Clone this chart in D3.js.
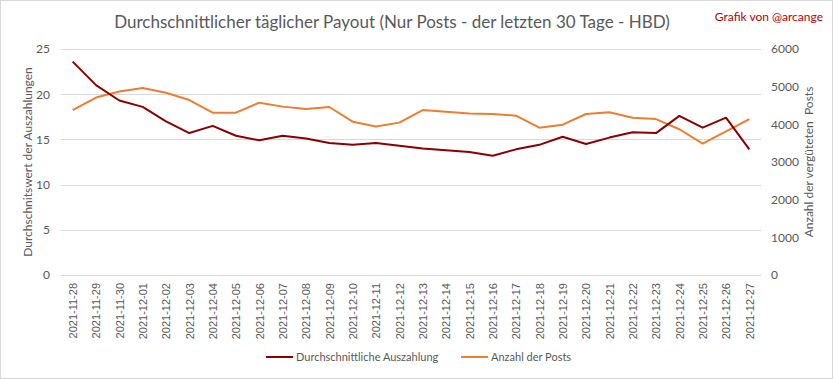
<!DOCTYPE html>
<html>
<head>
<meta charset="utf-8">
<script src="https://cdn.jsdelivr.net/npm/d3@7"></script>
<style>
  body { margin: 0; background: #fff; }
  svg text { font-family: Lato, "Open Sans", sans-serif; fill: #595959; }
</style>
</head>
<body>
<div id="chart"></div>
<script>
// daily average payout vs number of posts
var dates = ["2021-11-28","2021-11-29","2021-11-30","2021-12-01","2021-12-02","2021-12-03","2021-12-04","2021-12-05",
  "2021-12-06","2021-12-07","2021-12-08","2021-12-09","2021-12-10","2021-12-11","2021-12-12","2021-12-13",
  "2021-12-14","2021-12-15","2021-12-16","2021-12-17","2021-12-18","2021-12-19","2021-12-20","2021-12-21",
  "2021-12-22","2021-12-23","2021-12-24","2021-12-25","2021-12-26","2021-12-27"];
var payout = [23.6, 21.0, 19.3, 18.6, 17.0, 15.7, 16.5, 15.4, 14.9, 15.4, 15.1, 14.6, 14.4, 14.6, 14.3, 14.0,
  13.8, 13.6, 13.2, 13.9, 14.4, 15.3, 14.5, 15.2, 15.8, 15.7, 17.6, 16.3, 17.4, 13.9];
var posts = [4380, 4710, 4870, 4965, 4840, 4645, 4310, 4310, 4575, 4470, 4405, 4460, 4070, 3940, 4045, 4380,
  4335, 4285, 4275, 4230, 3910, 3990, 4275, 4320, 4175, 4140, 3870, 3490, 3815, 4140];
var leftTicks = [0, 5, 10, 15, 20, 25];
var rightTicks = [0, 1000, 2000, 3000, 4000, 5000, 6000];

var W = 833, H = 379;
var margin = {left: 61, right: 72, top: 49, bottom: 104};

var svg = d3.select("#chart").append("svg")
    .attr("width", W)
    .attr("height", H);

svg.append("rect")
    .attr("x", 0.5).attr("y", 0.5)
    .attr("width", W - 1).attr("height", H - 1)
    .attr("fill", "#fff")
    .attr("stroke", "#d9d9d9");

var x = d3.scalePoint()
    .domain(dates)
    .range([margin.left, W - margin.right])
    .padding(0.5);
var yL = d3.scaleLinear().domain([0, 25]).range([H - margin.bottom, margin.top]);
var yR = d3.scaleLinear().domain([0, 6000]).range([H - margin.bottom, margin.top]);

// gridlines
svg.append("g")
    .selectAll("line")
    .data(leftTicks)
    .enter()
    .append("line")
    .attr("x1", margin.left)
    .attr("x2", W - margin.right)
    .attr("y1", d => Math.round(yL(d)) + 0.5)
    .attr("y2", d => Math.round(yL(d)) + 0.5)
    .attr("stroke", "#d9d9d9");

// left axis
var leftAxis = svg.append("g")
    .attr("transform", `translate(${margin.left}, 0)`)
    .call(d3.axisLeft(yL).tickValues(leftTicks).tickSize(0).tickPadding(11));
leftAxis.select(".domain").remove();
leftAxis.selectAll("text").style("font-size", "12px").attr("fill", "#595959")
    .style("font-family", "Lato, sans-serif");

// right axis
var rightAxis = svg.append("g")
    .attr("transform", `translate(${W - margin.right}, 0)`)
    .call(d3.axisRight(yR).tickValues(rightTicks).tickFormat(d3.format("d")).tickSize(0).tickPadding(10));
rightAxis.select(".domain").remove();
rightAxis.selectAll("text").style("font-size", "12px").attr("fill", "#595959")
    .style("font-family", "Lato, sans-serif");

// x axis, rotated labels
var xAxis = svg.append("g")
    .attr("transform", `translate(0, ${H - margin.bottom})`)
    .call(d3.axisBottom(x).tickSize(0).tickPadding(0));
xAxis.select(".domain").remove();
xAxis.selectAll("text")
    .attr("transform", "rotate(-90)")
    .attr("x", -8)
    .attr("y", 0)
    .attr("dy", "0.35em")
    .attr("text-anchor", "end")
    .attr("fill", "#595959")
    .style("font-size", "11px")
    .style("font-family", "'Liberation Sans', Arial, sans-serif");

// lines
var linePay = d3.line()
    .x((d, i) => x(dates[i]))
    .y(d => yL(d));
var linePosts = d3.line()
    .x((d, i) => x(dates[i]))
    .y(d => yR(d));

svg.append("path")
    .datum(posts)
    .attr("d", linePosts)
    .attr("fill", "none")
    .attr("stroke", "#ed7d31")
    .attr("stroke-width", 2)
    .attr("stroke-linejoin", "round");

svg.append("path")
    .datum(payout)
    .attr("d", linePay)
    .attr("fill", "none")
    .attr("stroke", "#8b0000")
    .attr("stroke-width", 2)
    .attr("stroke-linejoin", "round");

// titles
svg.append("text")
    .attr("x", 392)
    .attr("y", 28)
    .attr("text-anchor", "middle")
    .style("font-size", "17px")
    .text("Durchschnittlicher täglicher Payout (Nur Posts - der letzten 30 Tage - HBD)");

svg.append("text")
    .attr("x", 823)
    .attr("y", 21)
    .attr("text-anchor", "end")
    .style("font-size", "12px")
    .style("fill", "#c00000")
    .text("Grafik von @arcange");

svg.append("text")
    .attr("transform", `translate(32, ${(yL(0) + yL(25)) / 2}) rotate(-90)`)
    .attr("text-anchor", "middle")
    .style("font-size", "12px")
    .text("Durchschnitswert der Auszahlungen");

svg.append("text")
    .attr("transform", `translate(813, ${(yR(0) + yR(6000)) / 2}) rotate(-90)`)
    .attr("text-anchor", "middle")
    .style("font-size", "12px")
    .style("white-space", "pre")
    .text("Anzahl der vergüteten  Posts");

// legend
var legendItems = [
  {label: "Durchschnittliche Auszahlung", color: "#8b0000", x: 266},
  {label: "Anzahl der Posts", color: "#ed7d31", x: 461}
];
var lg = svg.append("g").attr("transform", "translate(0, 357)");
lg.selectAll("line")
    .data(legendItems)
    .enter()
    .append("line")
    .attr("x1", d => d.x)
    .attr("x2", d => d.x + 27)
    .attr("y1", 0).attr("y2", 0)
    .attr("stroke", d => d.color)
    .attr("stroke-width", 2);
lg.selectAll("text")
    .data(legendItems)
    .enter()
    .append("text")
    .attr("x", d => d.x + 30)
    .attr("y", 0)
    .attr("dy", "0.35em")
    .style("font-size", "11px")
    .text(d => d.label);
</script>
</body>
</html>
